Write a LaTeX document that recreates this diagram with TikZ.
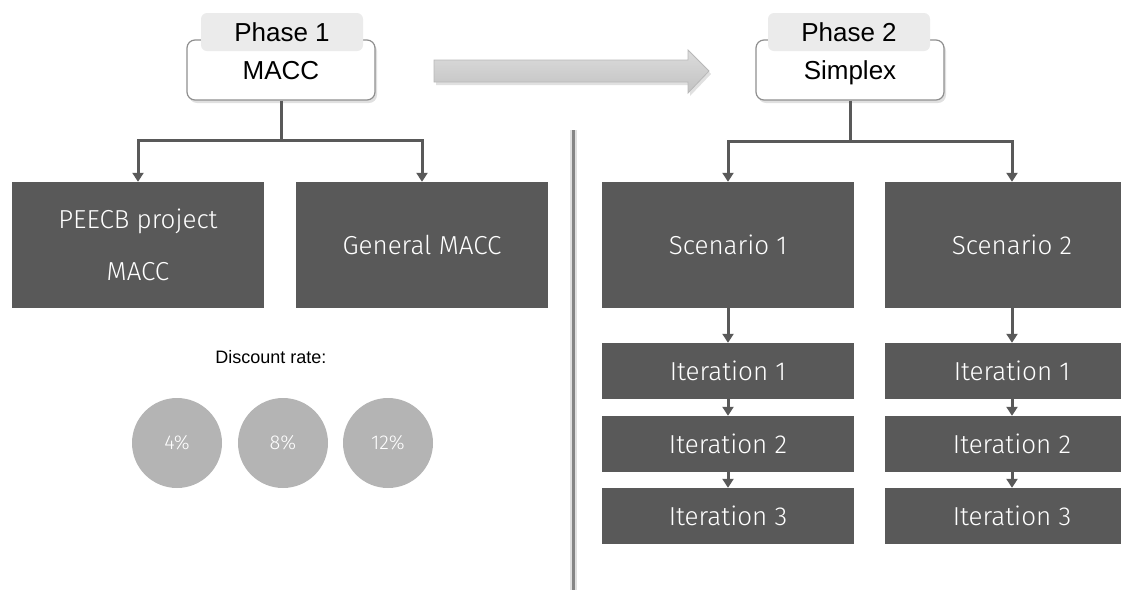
\documentclass[tikz,border=0pt]{standalone}
\usepackage{fontspec}
\setmainfont{Liberation Sans}
\newfontfamily\lightsans{Fira Sans Light}
\usetikzlibrary{arrows.meta,shadows}
\definecolor{boxgray}{HTML}{595959}
\definecolor{tabgray}{HTML}{EBEBEB}
\definecolor{edgegray}{HTML}{8F8F8F}
\definecolor{dotgray}{HTML}{B4B4B4}
\definecolor{rulegray}{HTML}{858585}
\definecolor{arrowtop}{HTML}{DCDCDC}
\definecolor{arrowbot}{HTML}{C2C2C2}
\definecolor{arrowedge}{HTML}{B8B8B8}

\begin{document}
\begin{tikzpicture}[x=1pt,y=-1pt,
  bigfont/.style={font=\fontsize{26}{30}\selectfont},
  lightfont/.style={font=\lightsans\fontsize{26}{30}\selectfont},
  phasebox/.style={draw=edgegray, line width=1.2pt, fill=white, rounded corners=8pt,
    minimum width=188pt, minimum height=60pt, inner sep=0pt, bigfont,
    text height=18pt, text depth=0pt,
    drop shadow={shadow xshift=2pt, shadow yshift=-3pt, fill=black, opacity=0.12}},
  tabbox/.style={fill=tabgray, rounded corners=6pt, minimum width=162pt,
    minimum height=38pt, inner sep=0pt, bigfont, text height=18pt, text depth=0pt},
  darkbox/.style={fill=boxgray, text=white, inner sep=0pt, lightfont,
    text height=18pt, text depth=0pt, align=center},
  bigbox/.style={darkbox, minimum height=126pt},
  iterbox/.style={darkbox, minimum height=56pt},
  rate/.style={circle, fill=dotgray, minimum size=90pt, inner sep=0pt, text=white,
    font=\lightsans\fontsize{20}{24}\selectfont},
  conn/.style={draw=boxgray, line width=3pt, -{Triangle[width=11pt,length=9pt]}}
]
\useasboundingbox (0,0) rectangle (1133,590);

% transition arrow between the two phases
\fill[black, opacity=0.12] (436,63) -- (690,63) -- (690,53) -- (711,74) -- (690,96) -- (690,85) -- (436,85) -- cycle;
\shade[top color=arrowtop, bottom color=arrowbot, draw=arrowedge, line width=0.8pt]
  (434,60) -- (688,60) -- (688,50) -- (709,71) -- (688,93) -- (688,82) -- (434,82) -- cycle;

% phase headers
\node[phasebox] (p1) at (281,70) {MACC};
\node[tabbox] (t1) at (282,32) {Phase 1};
\node[phasebox] (p2) at (850,70) {Simplex};
\node[tabbox] (t2) at (849,32) {Phase 2};

% separator between the phases, with a soft halo
\coordinate (rtop) at (573,130);
\coordinate (rbot) at (573,590);
\draw[black!12, line width=7pt] (rtop) -- (rbot);
\draw[rulegray, line width=3pt] (rtop) -- (rbot);

% phase 1 outputs
\node[bigbox, minimum width=252pt, text height=70pt] (pee) at (138,245) {PEECB project\\[22pt]MACC};
\node[bigbox, minimum width=252pt] (gen) at (422,245) {General MACC};

\draw[conn] (p1.south) -- ++(0,40) coordinate (j1) -| (pee.north);
\draw[conn] (j1) -| (gen.north);

% discount rates
\node[font=\fontsize{18}{22}\selectfont, text height=13pt, text depth=0pt] (dr) at (271,357) {Discount rate:};
\node[rate] (c4) at (177,443) {4\%};
\node[rate] (c8) at (283,443) {8\%};
\node[rate] (c12) at (388,443) {12\%};

% phase 2 scenarios
\coordinate (col2) at (1012,0);
\node[bigbox, minimum width=252pt] (s1) at (728,245) {Scenario 1};
\node[bigbox, minimum width=236pt] (s2) at (1003,245) {\hspace*{18pt}Scenario 2};

\draw[conn] (p2.south) -- ++(0,41) coordinate (j2) -| (s1.north);
\draw[conn] (j2) -| (s2.north -| col2);

% iterations
\node[iterbox, minimum width=252pt] (a1) at (728,371) {Iteration 1};
\node[iterbox, minimum width=252pt] (a2) at (728,444) {Iteration 2};
\node[iterbox, minimum width=252pt] (a3) at (728,516) {Iteration 3};
\node[iterbox, minimum width=236pt] (b1) at (1003,371) {\hspace*{18pt}Iteration 1};
\node[iterbox, minimum width=236pt] (b2) at (1003,444) {\hspace*{18pt}Iteration 2};
\node[iterbox, minimum width=236pt] (b3) at (1003,516) {\hspace*{18pt}Iteration 3};

\draw[conn] (s1.south) -- (a1.north);
\draw[conn] (a1.south) -- (a2.north);
\draw[conn] (a2.south) -- (a3.north);
\draw[conn] (s2.south -| col2) -- (b1.north -| col2);
\draw[conn] (b1.south -| col2) -- (b2.north -| col2);
\draw[conn] (b2.south -| col2) -- (b3.north -| col2);
\end{tikzpicture}
\end{document}
